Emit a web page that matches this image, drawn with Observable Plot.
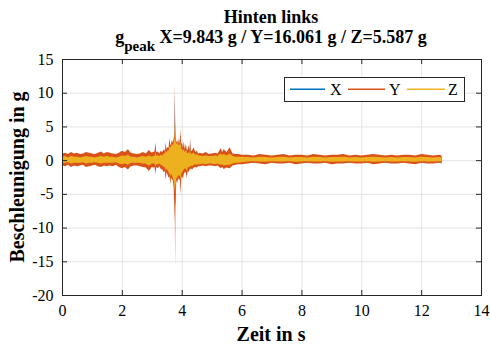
<!DOCTYPE html>
<html><head><meta charset="utf-8">
<script src="https://cdn.jsdelivr.net/npm/d3@7"></script>
<script src="https://cdn.jsdelivr.net/npm/@observablehq/plot@0.6"></script>
<style>
body{margin:0;background:#fff;}
#wrap{position:relative;width:491px;height:349px;overflow:hidden;}
#wrap svg{position:absolute;left:0;top:0;}
</style></head><body><div id="wrap"></div>
<script>
// time (s)
const T = [0.0,0.1,0.2,0.3,0.4,0.5,0.6,0.7,0.8,0.9,1.0,1.1,1.2,1.3,1.4,1.5,1.6,1.7,1.8,1.9,2.0,2.1,2.2,2.3,2.4,2.5,2.6,2.7,2.8,2.9,3.0,
 3.05,3.09,3.12,3.15,3.20,3.25,3.30,3.35,3.40,3.44,3.46,3.49,3.53,3.56,3.59,3.62,3.64,3.67,3.70,3.73,3.76,3.77,3.78,3.79,3.82,3.85,3.88,3.91,3.94,3.96,3.98,4.01,4.04,4.07,4.10,4.14,4.17,4.20,4.23,4.26,4.28,4.30,4.35,4.40,4.45,4.50,4.55,
 4.6,4.7,4.8,4.9,5.0,5.1,5.2,5.3,5.35,5.4,5.5,5.6,5.7,5.8,5.9,6.0,
 6.2,6.4,6.6,6.8,7.0,7.2,7.4,7.6,7.8,8.0,8.2,8.4,8.6,8.8,9.0,9.2,9.4,9.6,9.8,10.0,10.2,10.4,10.6,10.8,11.0,11.2,11.4,11.6,11.8,12.0,12.2,12.4,12.6,12.68];
// Y envelope (g)
const Yhi = [1.0,1.1,0.9,1.2,1.0,1.1,0.9,1.0,1.2,1.1,1.0,0.9,1.1,1.3,1.0,1.2,1.1,1.0,0.9,1.1,1.4,1.2,1.6,1.1,1.0,0.9,1.0,1.2,1.0,1.5,1.1,
 1.3,1.2,2.6,1.2,1.3,1.0,1.4,1.2,1.6,1.4,2.6,1.6,2.0,1.8,3.3,2.2,2.4,3.0,2.6,3.2,4.0,11.5,6.0,3.5,2.6,3.0,2.4,3.4,2.4,4.7,2.4,2.6,1.8,2.8,1.6,2.4,1.4,1.6,2.2,1.4,3.3,1.3,1.5,1.9,1.2,1.4,1.0,
 1.1,1.0,1.2,0.9,1.0,1.1,1.0,1.8,1.2,1.6,1.2,1.9,1.0,0.9,0.9,0.8,
 0.8,0.7,0.9,0.8,0.7,0.8,0.9,0.7,0.8,0.8,0.7,0.9,0.8,0.7,0.8,0.8,0.9,0.7,0.8,0.7,0.8,0.9,0.8,0.7,0.8,0.7,0.8,0.8,0.7,0.9,0.8,0.7,0.8,0.7];
const Ylo = [-0.8,-0.9,-0.7,-1.0,-0.8,-0.9,-0.8,-0.7,-1.0,-0.9,-0.8,-0.7,-0.9,-1.0,-0.8,-0.9,-0.8,-0.9,-0.7,-1.0,-1.2,-1.0,-1.4,-0.9,-0.8,-0.8,-0.9,-1.0,-1.1,-1.6,-1.0,
 -1.1,-1.0,-2.0,-1.0,-1.2,-0.9,-1.3,-1.4,-1.8,-1.6,-3.0,-1.8,-2.2,-2.6,-2.4,-3.6,-2.6,-2.8,-3.0,-4.0,-8.0,-9.0,-16.0,-7.0,-3.0,-3.4,-2.6,-3.0,-2.8,-5.2,-2.6,-2.4,-2.8,-2.0,-1.8,-1.8,-2.7,-1.5,-1.8,-1.3,-1.6,-1.2,-1.4,-1.1,-1.0,-1.1,-0.9,
 -0.9,-0.8,-0.9,-0.8,-0.8,-0.9,-0.8,-1.2,-1.0,-1.3,-1.1,-1.2,-0.8,-0.7,-0.6,-0.6,
 -0.5,-0.4,-0.5,-0.6,-0.4,-0.5,-0.5,-0.4,-0.6,-0.5,-0.4,-0.5,-0.5,-0.4,-0.6,-0.5,-0.5,-0.4,-0.5,-0.5,-0.4,-0.6,-0.5,-0.4,-0.5,-0.5,-0.4,-0.5,-0.6,-0.4,-0.5,-0.5,-0.4,-0.5];
// Z envelope (g)
const Zhi = [0.5,0.6,0.4,0.6,0.5,0.5,0.4,0.5,0.6,0.5,0.5,0.4,0.5,0.6,0.5,0.6,0.5,0.5,0.4,0.5,0.7,0.6,0.8,0.5,0.5,0.4,0.5,0.6,0.5,0.7,0.5,
 0.6,0.6,1.2,0.7,0.7,0.6,0.8,0.7,1.0,1.0,1.5,1.1,1.5,1.4,2.0,1.9,2.0,2.4,2.2,2.6,3.2,5.5,4.5,3.0,2.4,2.6,2.2,2.4,2.2,2.8,1.8,1.6,1.4,1.6,1.2,1.5,1.1,1.0,1.2,1.0,1.6,0.9,1.0,1.1,0.8,0.9,0.7,
 0.7,0.6,0.7,0.6,0.6,0.7,0.6,1.0,0.8,0.9,0.7,1.0,0.6,0.5,0.5,0.5,
 0.45,0.4,0.5,0.45,0.4,0.45,0.5,0.4,0.45,0.45,0.4,0.5,0.45,0.4,0.45,0.45,0.5,0.4,0.45,0.4,0.45,0.5,0.45,0.4,0.45,0.4,0.45,0.45,0.4,0.5,0.45,0.4,0.45,0.4];
const Zlo = [-0.4,-0.4,-0.3,-0.5,-0.4,-0.4,-0.4,-0.3,-0.5,-0.4,-0.4,-0.3,-0.4,-0.5,-0.4,-0.4,-0.4,-0.4,-0.3,-0.5,-0.6,-0.5,-0.7,-0.4,-0.4,-0.4,-0.4,-0.5,-0.5,-0.8,-0.5,
 -0.5,-0.5,-1.0,-0.6,-0.6,-0.5,-0.7,-0.8,-1.0,-1.0,-1.6,-1.2,-1.5,-1.8,-2.0,-2.4,-2.0,-2.2,-2.6,-3.0,-4.0,-4.5,-5.0,-3.8,-2.6,-2.6,-2.2,-2.4,-2.2,-3.0,-2.0,-1.8,-1.6,-1.4,-1.2,-1.3,-1.6,-1.0,-1.1,-0.9,-1.0,-0.8,-0.9,-0.7,-0.6,-0.7,-0.6,
 -0.6,-0.5,-0.6,-0.5,-0.5,-0.6,-0.5,-0.7,-0.6,-0.8,-0.7,-0.7,-0.5,-0.4,-0.4,-0.3,
 -0.2,-0.15,-0.2,-0.25,-0.15,-0.2,-0.2,-0.15,-0.25,-0.2,-0.15,-0.2,-0.2,-0.15,-0.25,-0.2,-0.2,-0.15,-0.2,-0.2,-0.15,-0.25,-0.2,-0.15,-0.2,-0.2,-0.15,-0.2,-0.25,-0.15,-0.2,-0.2,-0.15,-0.2];
// X envelope (g)
const Xhi = [0.7,0.8,0.6,0.9,0.7,0.8,0.6,0.7,0.9,0.8,0.7,0.6,0.8,0.9,0.7,0.9,0.8,0.7,0.6,0.8,1.0,0.9,1.2,0.8,0.7,0.6,0.7,0.9,0.7,1.1,0.8,
 1.0,0.9,2.0,0.9,1.0,0.8,1.1,0.9,1.3,1.1,2.1,1.3,1.6,1.4,2.6,1.8,1.9,2.4,2.1,2.6,3.2,9.8,5.0,2.8,2.0,2.4,1.9,2.7,1.9,3.8,1.9,2.1,1.4,2.2,1.3,1.9,1.1,1.3,1.8,1.1,2.6,1.0,1.2,1.5,1.0,1.1,0.8,
 0.9,0.8,1.0,0.7,0.8,0.9,0.8,1.4,1.0,1.3,1.0,1.5,0.8,0.7,0.7,0.6,
 0.6,0.5,0.7,0.6,0.5,0.6,0.7,0.5,0.6,0.6,0.5,0.7,0.6,0.5,0.6,0.6,0.7,0.5,0.6,0.5,0.6,0.7,0.6,0.5,0.6,0.5,0.6,0.6,0.5,0.7,0.6,0.5,0.6,0.5];
const Xlo = [-0.6,-0.7,-0.5,-0.8,-0.6,-0.7,-0.6,-0.5,-0.8,-0.7,-0.6,-0.5,-0.7,-0.8,-0.6,-0.7,-0.6,-0.7,-0.5,-0.8,-0.9,-0.8,-1.1,-0.7,-0.6,-0.6,-0.7,-0.8,-0.9,-1.2,-0.8,
 -0.9,-0.8,-1.6,-0.8,-0.9,-0.7,-1.0,-1.1,-1.4,-1.2,-2.4,-1.4,-1.7,-2.0,-1.9,-2.9,-2.0,-2.2,-2.4,-3.2,-5.0,-6.0,-7.0,-5.0,-2.4,-2.7,-2.1,-2.4,-2.2,-4.2,-2.1,-1.9,-2.2,-1.6,-1.4,-1.4,-2.2,-1.2,-1.4,-1.0,-1.3,-1.0,-1.1,-0.9,-0.8,-0.9,-0.7,
 -0.7,-0.6,-0.7,-0.6,-0.6,-0.7,-0.6,-1.0,-0.8,-1.0,-0.9,-1.0,-0.6,-0.5,-0.5,-0.5,
 -0.35,-0.3,-0.35,-0.45,-0.3,-0.35,-0.35,-0.3,-0.45,-0.35,-0.3,-0.35,-0.35,-0.3,-0.45,-0.35,-0.35,-0.3,-0.35,-0.35,-0.3,-0.45,-0.35,-0.3,-0.35,-0.35,-0.3,-0.35,-0.45,-0.3,-0.35,-0.35,-0.3,-0.35];

const xTicks = [0,2,4,6,8,10,12,14];
const yTicks = [-20,-15,-10,-5,0,5,10,15];
const seriesNames = ["X","Y","Z"];
const seriesColors = ["#0072BD","#D95319","#EDB120"];
const titleText = "Hinten links";
const peakText = "X=9.843 g / Y=16.061 g / Z=5.587 g";
const xLabel = "Zeit in s";
const yLabel = "Beschleunigung in g";

const data = T.map((t,i)=>({t, xhi:Xhi[i], xlo:Xlo[i], yhi:Yhi[i], ylo:Ylo[i], zhi:Zhi[i], zlo:Zlo[i]}));

const W = 491, H = 349, mL = 62, mR = 10, mT = 59, mB = 54;
const iW = W - mL - mR, iH = H - mT - mB;
const axisColor = "#262626";
const FONT = "Liberation Serif, Times New Roman, serif";

const chart = Plot.plot({
  width: W, height: H,
  marginLeft: mL, marginRight: mR, marginTop: mT, marginBottom: mB,
  x: {domain: [0,14]},
  y: {domain: [-20,15]},
  style: {fontFamily: FONT, fontSize: "16px", color: axisColor, background: "white", overflow: "visible"},
  marks: [
    Plot.gridX(xTicks, {stroke: "#e3e3e3", strokeOpacity: 1}),
    Plot.gridY(yTicks, {stroke: "#e3e3e3", strokeOpacity: 1}),
    Plot.areaY(data, {x: "t", y1: "xlo", y2: "xhi", fill: seriesColors[0]}),
    Plot.areaY(data, {x: "t", y1: "ylo", y2: "yhi", fill: seriesColors[1]}),
    Plot.areaY(data, {x: "t", y1: "zlo", y2: "zhi", fill: seriesColors[2]}),
    Plot.frame({stroke: axisColor, strokeWidth: 1}),
    Plot.tickX(xTicks, {x: d=>d, insetTop: iH-5, stroke: axisColor}),
    Plot.tickX(xTicks, {x: d=>d, insetBottom: iH-5, stroke: axisColor}),
    Plot.tickY(yTicks, {y: d=>d, insetRight: iW-5, stroke: axisColor}),
    Plot.tickY(yTicks, {y: d=>d, insetLeft: iW-5, stroke: axisColor}),
    Plot.axisX(xTicks, {tickSize: 0, tickPadding: 9, label: null, tickFormat: d=>String(d), fill: "#000", fontFamily: FONT}),
    Plot.axisY(yTicks, {tickSize: 0, tickPadding: 9, label: null, tickFormat: d=>String(d), fill: "#000", fontFamily: FONT})
  ]
});
document.getElementById("wrap").appendChild(chart);

// text overlay (titles, axis labels, legend)
const ns = "http://www.w3.org/2000/svg";
const ov = document.createElementNS(ns, "svg");
ov.setAttribute("width", W); ov.setAttribute("height", H);
ov.setAttribute("font-family", FONT);
ov.style.pointerEvents = "none";
function add(tag, attrs, text) {
  const el = document.createElementNS(ns, tag);
  for (const k in attrs) el.setAttribute(k, attrs[k]);
  if (text != null) el.textContent = text;
  ov.appendChild(el);
  return el;
}
add("text", {x: 271, y: 23, "text-anchor": "middle", "font-weight": "bold", "font-size": 18, fill: "#000"}, titleText);
const sub = add("text", {x: 271, y: 43, "text-anchor": "middle", "font-weight": "bold", "font-size": 18, fill: "#000"});
const s1 = document.createElementNS(ns, "tspan"); s1.textContent = "g"; sub.appendChild(s1);
const s2 = document.createElementNS(ns, "tspan"); s2.setAttribute("font-size", 15); s2.setAttribute("dy", 8); s2.textContent = "peak"; sub.appendChild(s2);
const s3 = document.createElementNS(ns, "tspan"); s3.setAttribute("dy", -8); s3.textContent = " " + peakText; sub.appendChild(s3);
add("text", {x: 271, y: 341, "text-anchor": "middle", "font-weight": "bold", "font-size": 20, fill: "#000"}, xLabel);
add("text", {transform: "translate(24,177) rotate(-90)", "text-anchor": "middle", "font-weight": "bold", "font-size": 20, fill: "#000"}, yLabel);
add("rect", {x: 284.5, y: 77.5, width: 180, height: 24, fill: "white", stroke: axisColor, "stroke-width": 1});
const legX = [[290,325,330],[348,385,389],[407,445,448]];
seriesNames.forEach((n,i) => {
  const [a,b,tx] = legX[i];
  add("rect", {x: a, y: 88.5, width: b - a, height: 1.5, fill: seriesColors[i], stroke: "none"});
  add("text", {x: tx, y: 95, "font-size": 16, fill: "#000"}, n);
});
document.getElementById("wrap").appendChild(ov);
</script></body></html>
